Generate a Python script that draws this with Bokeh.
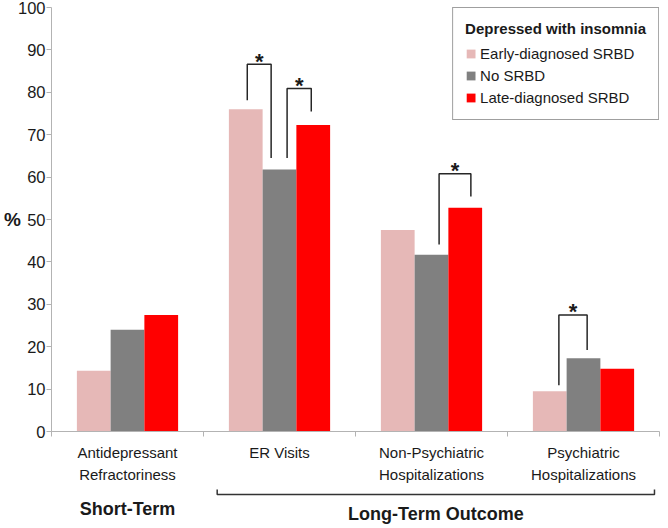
from bokeh.plotting import figure
from bokeh.layouts import column
from bokeh.models import ColumnDataSource, FixedTicker, Range1d
from bokeh.core.properties import value
from bokeh.embed import file_html
from bokeh.resources import INLINE

# ---- data ----
categories = ["Antidepressant\nRefractoriness", "ER Visits",
              "Non-Psychiatric\nHospitalizations", "Psychiatric\nHospitalizations"]
series = ["Early-diagnosed SRBD", "No SRBD", "Late-diagnosed SRBD"]
early = [14.3, 76.0, 47.5, 9.5]
no_srbd = [24.0, 61.8, 41.7, 17.3]
late = [27.5, 72.3, 52.8, 14.8]
y_ticks = [0, 10, 20, 30, 40, 50, 60, 70, 80, 90, 100]

# significance brackets: category index, bar pair, top, left-leg bottom, right-leg bottom
sig_cat = [1, 1, 2, 3]
sig_pair = [(0, 1), (1, 2), (1, 2), (0, 1)]
sig_top = [86.6, 80.9, 60.8, 27.5]
sig_left_bottom = [78.1, 64.5, 44.1, 10.9]
sig_right_bottom = [64.5, 75.5, 55.4, 19.2]

group_labels = ["Short-Term", "Long-Term Outcome"]

# ---- styles / layout ----
colors = ["#e6b8b7", "#808080", "#ff0000"]
bar_w = 0.222
offsets = [-0.222, 0.0, 0.222]
leg_nudge = [(0.01, -0.055), (0.05, -0.013), (0.05, 0.037), (0.06, 0.024)]
FONT = "Liberation Sans"
INK = "#1a1a1a"

W = 668
H_MAIN = 486
H_BOTTOM = 42

p = figure(width=W, height=H_MAIN, output_backend="svg", toolbar_location=None,
           x_range=Range1d(0, len(categories)), y_range=Range1d(0, 100),
           min_border_left=51, min_border_right=9, min_border_top=7, min_border_bottom=49)
p.outline_line_color = None
p.xgrid.visible = False
p.ygrid.visible = False

for k, (name, vals) in enumerate(zip(series, [early, no_srbd, late])):
    src = ColumnDataSource(dict(x=[i + 0.5 + offsets[k] for i in range(len(categories))], top=vals))
    p.vbar(x="x", top="top", width=bar_w, source=src, fill_color=colors[k],
           line_color=None, legend_label=name)

# significance brackets
xs, ys, sx, sy = [], [], [], []
for c, (a, b), t, lb, rb, (na, nb) in zip(sig_cat, sig_pair, sig_top, sig_left_bottom,
                                          sig_right_bottom, leg_nudge):
    xl = c + 0.5 + offsets[a] + na
    xr = c + 0.5 + offsets[b] + nb
    xs.append([xl, xl, xr, xr])
    ys.append([lb, t, t, rb])
    sx.append((xl + xr) / 2)
    sy.append(t)
p.multi_line(xs=xs, ys=ys, line_color="#262626", line_width=1.5)
p.text(x=sx, y=sy, text=["*"] * len(sx), text_align="center", text_baseline="middle",
       y_offset=-3, text_font=value(FONT), text_font_style="bold",
       text_font_size="22px", text_color=INK)

# y axis
ya = p.yaxis[0]
ya.ticker = FixedTicker(ticks=y_ticks)
ya.axis_line_color = "#b3b3b3"
ya.major_tick_line_color = "#b3b3b3"
ya.major_tick_out = 5
ya.major_tick_in = 0
ya.minor_tick_line_color = None
ya.major_label_standoff = 1
ya.major_label_text_font = FONT
ya.major_label_text_font_size = "16.5px"
ya.major_label_text_color = INK
ya.axis_label = "%"
ya.axis_label_orientation = "horizontal"
ya.axis_label_standoff = -6
ya.axis_label_text_font = FONT
ya.axis_label_text_font_style = "bold"
ya.axis_label_text_font_size = "19px"
ya.axis_label_text_color = INK

# x axis (categories centered, ticks at boundaries)
xa = p.xaxis[0]
xa.ticker = FixedTicker(ticks=[i + 0.5 for i in range(len(categories))],
                        minor_ticks=list(range(len(categories) + 1)))
xa.major_label_overrides = {i + 0.5: lab for i, lab in enumerate(categories)}
xa.axis_line_color = "#b3b3b3"
xa.major_tick_line_color = None
xa.major_tick_out = 0
xa.major_tick_in = 0
xa.minor_tick_line_color = "#b3b3b3"
xa.minor_tick_out = 5
xa.minor_tick_in = 0
xa.major_label_standoff = 7
xa.major_label_text_font = FONT
xa.major_label_text_font_size = "15px"
xa.major_label_text_color = INK
xa.major_label_text_line_height = 1.35

# legend
lg = p.legend[0]
lg.title = "Depressed with insomnia"
lg.title_text_font = FONT
lg.title_text_font_style = "bold"
lg.title_text_font_size = "15px"
lg.title_text_color = INK
lg.title_standoff = 6
lg.label_text_font = FONT
lg.label_text_font_size = "15px"
lg.label_text_color = INK
lg.glyph_width = 11
lg.glyph_height = 11
lg.label_height = 20
lg.label_standoff = 4
lg.spacing = 2
lg.padding = 12
lg.margin = 0
lg.location = "top_right"
lg.border_line_color = "#404040"
lg.border_line_width = 1.5
lg.background_fill_color = "white"
lg.background_fill_alpha = 1

# ---- bottom strip: group bracket and group titles ----
p2 = figure(width=W, height=H_BOTTOM, output_backend="svg", toolbar_location=None,
            x_range=p.x_range, y_range=Range1d(H_BOTTOM, 0),
            x_axis_location=None, y_axis_location=None,
            min_border_left=51, min_border_right=9, min_border_top=0, min_border_bottom=0)
p2.outline_line_color = None
p2.xgrid.visible = False
p2.ygrid.visible = False

x0 = 1 + 0.09
x1 = len(categories) - 0.033
p2.multi_line(xs=[[x0, x0, x1, x1]], ys=[[3, 8, 8, 3]], line_color="#333333", line_width=1.5)
p2.text(x=[0.5, (x0 + x1) / 2], y=[22, 27], text=group_labels, text_align="center",
        text_baseline="middle", text_font=value(FONT), text_font_style="bold",
        text_font_size="18px", text_color=INK)

layout = column(p, p2, spacing=0)
open("out.html", "w").write(file_html(layout, INLINE))
